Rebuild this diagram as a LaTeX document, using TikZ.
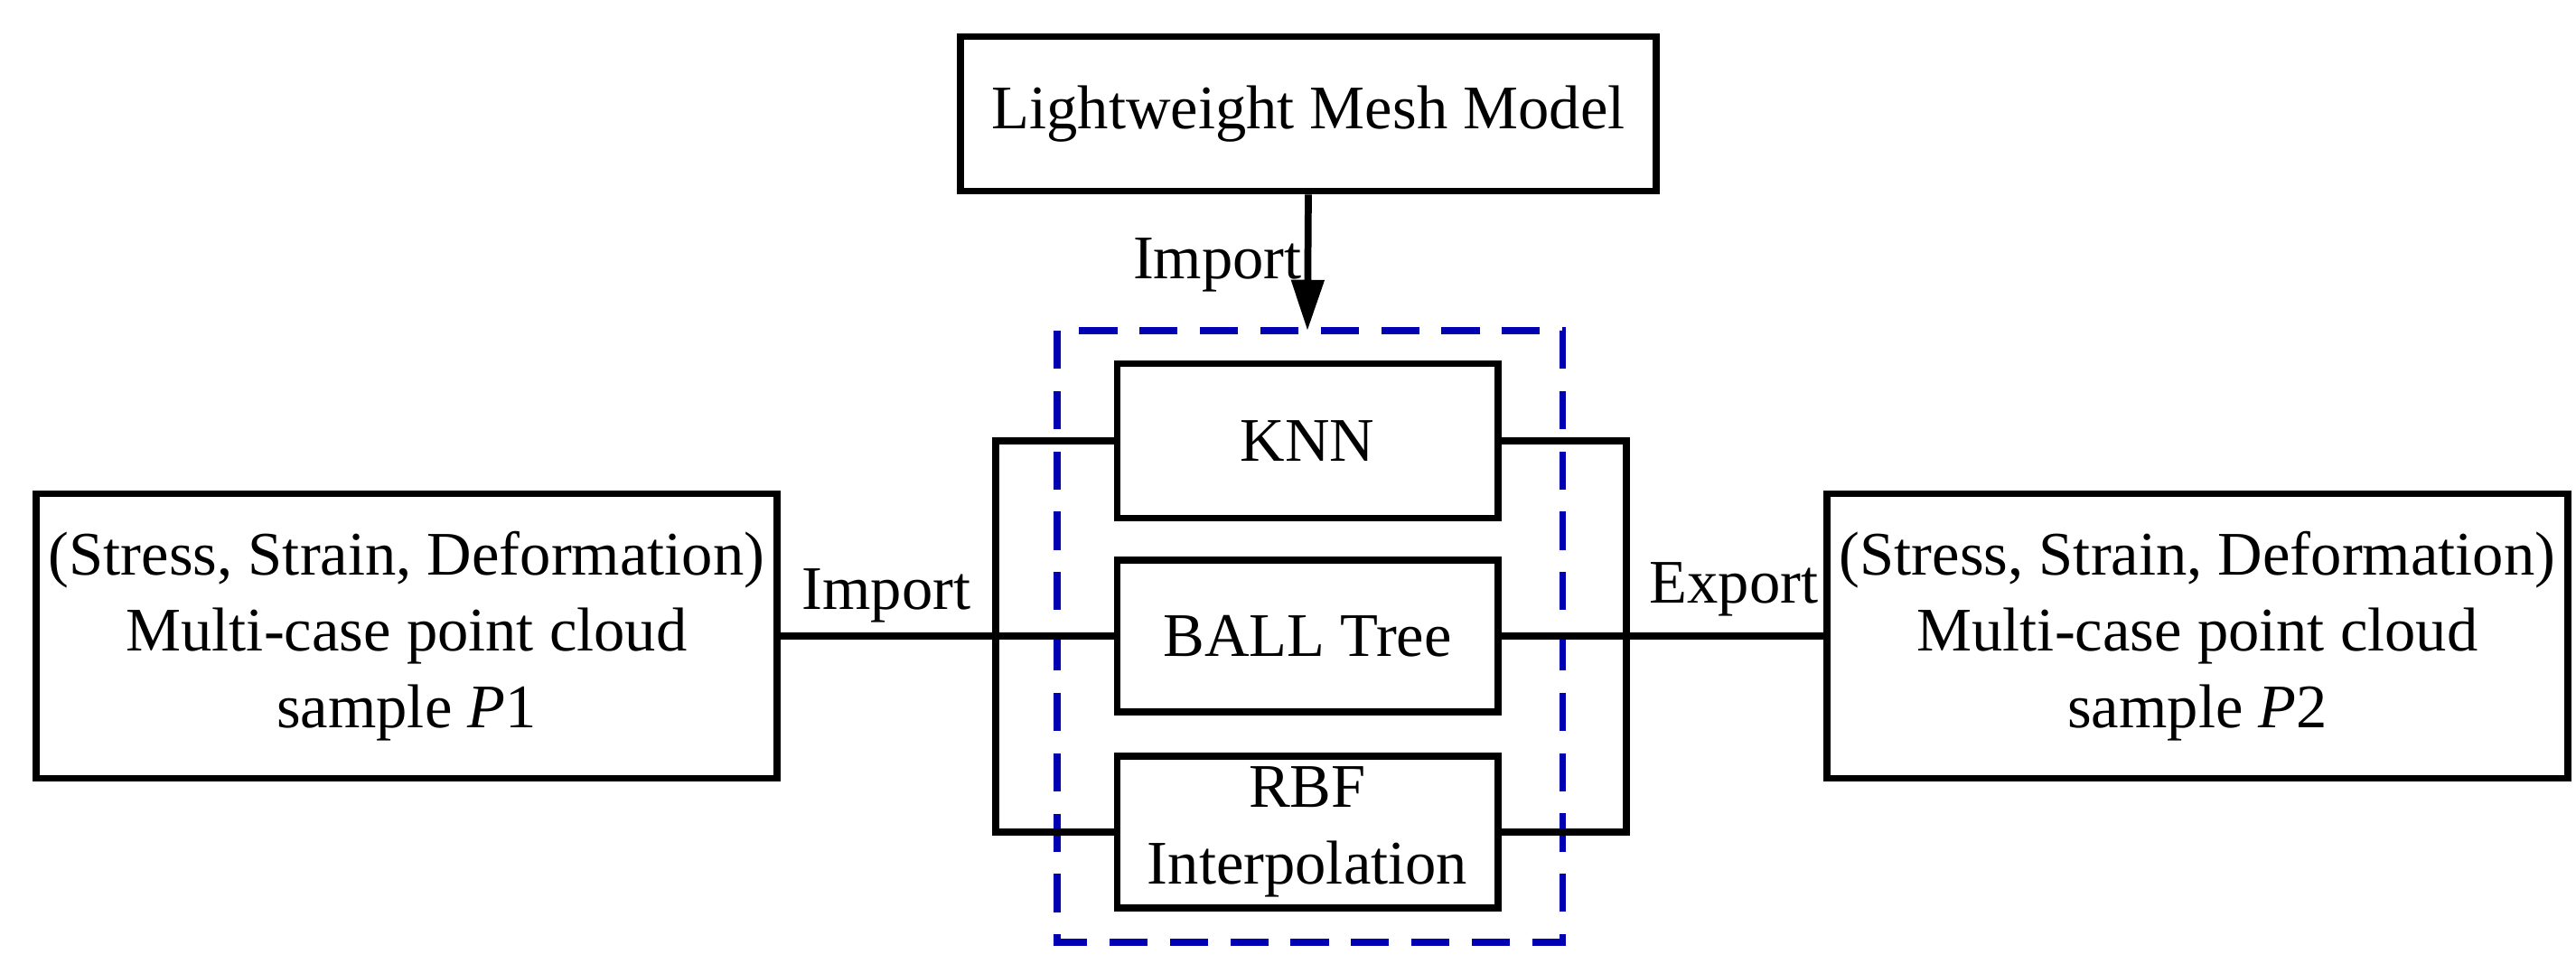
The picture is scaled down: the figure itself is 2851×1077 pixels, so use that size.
\documentclass[tikz,border=0pt]{standalone}
\usepackage{fontspec}
\setmainfont{Liberation Serif}
\usetikzlibrary{arrows.meta}
\begin{document}
\begin{tikzpicture}[x=0.01cm,y=-0.01cm,
 box/.style={draw,line width=2.2pt,inner sep=0pt,align=center,font=\fontsize{19.5}{24}\selectfont},
 ln/.style={line width=2.2pt},
 lbl/.style={font=\fontsize{19.5}{24}\selectfont,inner sep=1pt}]
\useasboundingbox (0,0) rectangle (2851,1077);
\node[box,minimum width=7.69cm,minimum height=1.71cm] (top) at (1448,126) {Lightweight Mesh Model};
\node[box,minimum width=4.21cm,minimum height=1.71cm] (knn) at (1447,488) {KNN};
\node[box,minimum width=4.21cm,minimum height=1.68cm] (ball) at (1447,704) {BALL Tree};
\node[box,minimum width=4.21cm,minimum height=1.68cm] (rbf) at (1447,921) {RBF\\Interpolation};
\node[box,minimum width=8.19cm,minimum height=3.15cm] (p1) at (450,704) {(Stress, Strain, Deformation)\\Multi-case point cloud\\sample \textit{P}1};
\node[box,minimum width=8.19cm,minimum height=3.15cm] (p2) at (2432,704) {(Stress, Strain, Deformation)\\Multi-case point cloud\\sample \textit{P}2};
\draw[draw=blue!70!black,line width=2pt,dash pattern=on 12pt off 7pt] (1170,366) rectangle (1729,1043);
\coordinate (tin) at (1447,366);
\draw[ln,-{Triangle[length=16pt,width=10pt]}] (top.south) -- (tin);
\node[lbl,anchor=east] at (1445,293) {Import};
\coordinate (lb1) at (1102,488);
\coordinate (lb2) at (1102,921);
\coordinate (rb1) at (1800,488);
\coordinate (rb2) at (1800,921);
\draw[ln] (knn.west) -- (lb1) -- (lb2) -- (rbf.west);
\draw[ln] (knn.east) -- (rb1) -- (rb2) -- (rbf.east);
\draw[ln] (p1.east) -- (ball.west);
\draw[ln] (ball.east) -- (p2.west);
\node[lbl] at (981,659) {Import};
\node[lbl] at (1919,652) {Export};
\end{tikzpicture}
\end{document}
